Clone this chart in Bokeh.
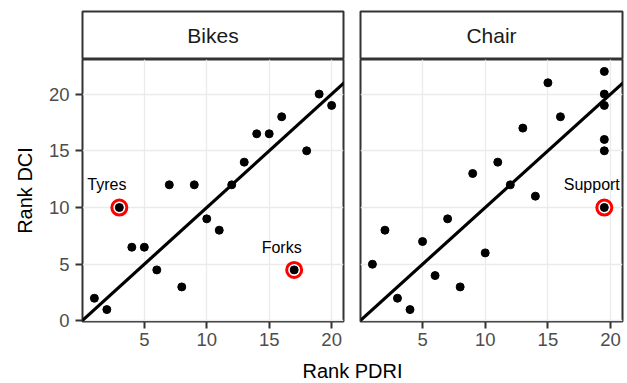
from bokeh.plotting import figure
from bokeh.layouts import column, row
from bokeh.models import Range1d, FixedTicker, Grid, Slope, ColumnDataSource
from bokeh.core.properties import value
from bokeh.embed import file_html
from bokeh.resources import INLINE

# ---- data -------------------------------------------------------------
facets = ["Bikes", "Chair"]

bikes_pdri = [1, 2, 3, 4, 5, 6, 7, 8, 9, 10, 11, 12, 13, 14, 15, 16, 17, 18, 19, 20]
bikes_dci = [2, 1, 10, 6.5, 6.5, 4.5, 12, 3, 12, 9, 8, 12, 14, 16.5, 16.5, 18, 4.5, 15, 20, 19]

chair_pdri = [1, 2, 3, 4, 5, 6, 7, 8, 9, 10, 11, 12, 13, 14, 15, 16,
              19.5, 19.5, 19.5, 19.5, 19.5, 19.5]
chair_dci = [5, 8, 2, 1, 7, 4, 9, 3, 13, 6, 14, 12, 17, 11, 21, 18,
             22, 20, 19, 16, 15, 10]

# highlighted outliers per facet
bikes_hl_names = ["Tyres", "Forks"]
bikes_hl_pdri = [3, 17]
bikes_hl_dci = [10, 4.5]

chair_hl_names = ["Support"]
chair_hl_pdri = [19.5]
chair_hl_dci = [10]

x_ticks = [5, 10, 15, 20]
y_ticks = [0, 5, 10, 15, 20]

x_title = "Rank PDRI"
y_title = "Rank DCI"

# ---- shared scales (5% expansion, as in a faceted ggplot) --------------
all_x = bikes_pdri + chair_pdri
all_y = bikes_dci + chair_dci
def expand(vals, mult=0.05):
    lo, hi = min(vals), max(vals)
    pad = (hi - lo) * mult
    return lo - pad, hi + pad
x_lim = expand(all_x)
y_lim = expand(all_y)

FONT = "Liberation Sans"
BORDER = "#333333"
GRID = "#EBEBEB"
TICK_TXT = "#4D4D4D"

# column geometry (pixels)
LEFT_W, RIGHT_W = 351, 276
LEFT_B, LEFT_R = 82, 8
RIGHT_B, RIGHT_R = 9, 5
STRIP_H, STRIP_TOP = 59, 11
PANEL_H, PANEL_BOTTOM = 292, 30
LABEL_H = 32


def strip(name, width, lb, rb):
    s = figure(width=width, height=STRIP_H, x_range=Range1d(0, 1), y_range=Range1d(0, 1),
               output_backend="svg", toolbar_location=None, title_location=None,
               x_axis_location=None, y_axis_location=None,
               min_border_left=lb, min_border_right=rb,
               min_border_top=STRIP_TOP, min_border_bottom=0)
    s.center = [r for r in s.center if not isinstance(r, Grid)]
    s.outline_line_color = BORDER
    s.outline_line_width = 2
    s.background_fill_color = "white"
    s.border_fill_color = "white"
    s.text(x=[0.5], y=[0.5], text=[name], text_font=value(FONT), text_font_size="21px",
           text_color="#1A1A1A", text_align="center", text_baseline="middle")
    return s


def panel(xs, ys, hx, hy, names, width, lb, rb, show_y):
    p = figure(width=width, height=PANEL_H, x_range=Range1d(*x_lim), y_range=Range1d(*y_lim),
               output_backend="svg", toolbar_location=None, title_location=None,
               x_axis_location="below", y_axis_location="left" if show_y else None,
               min_border_left=lb, min_border_right=rb,
               min_border_top=0, min_border_bottom=PANEL_BOTTOM)
    p.center = [r for r in p.center if not isinstance(r, Grid)]
    p.add_layout(Grid(dimension=0, ticker=FixedTicker(ticks=x_ticks),
                      grid_line_color=GRID, grid_line_width=1.3))
    p.add_layout(Grid(dimension=1, ticker=FixedTicker(ticks=y_ticks),
                      grid_line_color=GRID, grid_line_width=1.3))
    p.outline_line_color = BORDER
    p.outline_line_width = 2
    p.background_fill_color = "white"
    p.border_fill_color = "white"

    axes = list(p.xaxis) + (list(p.yaxis) if show_y else [])
    for ax in axes:
        ax.axis_line_color = None
        ax.major_tick_in = 0
        ax.major_tick_out = 7
        ax.major_tick_line_color = BORDER
        ax.major_tick_line_width = 2
        ax.minor_tick_line_color = None
        ax.major_label_text_font = FONT
        ax.major_label_text_font_size = "18.5px"
        ax.major_label_text_color = TICK_TXT
    p.xaxis.ticker = FixedTicker(ticks=x_ticks)
    p.xaxis.major_label_standoff = 4
    if show_y:
        p.yaxis.ticker = FixedTicker(ticks=y_ticks)
        p.yaxis.major_label_standoff = 6
        p.yaxis.axis_label = y_title
        p.yaxis.axis_label_text_font = FONT
        p.yaxis.axis_label_text_font_size = "20px"
        p.yaxis.axis_label_text_font_style = "normal"
        p.yaxis.axis_label_text_color = "black"
        p.yaxis.axis_label_standoff = 10

    # identity reference line
    p.add_layout(Slope(gradient=1, y_intercept=0, line_color="black", line_width=3.2))

    # highlight rings behind the outlier points
    p.scatter(hx, hy, marker="circle", size=15, fill_color="white",
              line_color="#FF0000", line_width=3)
    p.scatter(xs, ys, marker="circle", size=8, fill_color="black", line_color="black")

    lab = ColumnDataSource(dict(x=[v - 1 for v in hx], y=[v + 2 for v in hy], t=names))
    p.text(x="x", y="y", text="t", source=lab, text_font=value(FONT),
           text_font_size="16px", text_color="black",
           text_align="center", text_baseline="middle")
    return p


s1 = strip(facets[0], LEFT_W, LEFT_B, LEFT_R)
s2 = strip(facets[1], RIGHT_W, RIGHT_B, RIGHT_R)
p1 = panel(bikes_pdri, bikes_dci, bikes_hl_pdri, bikes_hl_dci, bikes_hl_names,
           LEFT_W, LEFT_B, LEFT_R, True)
p2 = panel(chair_pdri, chair_dci, chair_hl_pdri, chair_hl_dci, chair_hl_names,
           RIGHT_W, RIGHT_B, RIGHT_R, False)

# shared x-axis title centred under both panels
xl = figure(width=LEFT_W + RIGHT_W, height=LABEL_H, x_range=Range1d(0, 1),
            y_range=Range1d(0, LABEL_H), output_backend="svg", toolbar_location=None,
            title_location=None, x_axis_location=None, y_axis_location=None,
            min_border_left=LEFT_B, min_border_right=RIGHT_R,
            min_border_top=0, min_border_bottom=0)
xl.center = [r for r in xl.center if not isinstance(r, Grid)]
xl.outline_line_color = None
xl.background_fill_color = "white"
xl.border_fill_color = "white"
xl.text(x=[0.5], y=[12.5], text=[x_title], text_font=value(FONT), text_font_size="20px",
        text_color="black", text_align="center", text_baseline="middle")

layout = column(row(s1, s2), row(p1, p2), xl)

with open("out.html", "w") as f:
    f.write(file_html(layout, INLINE))
